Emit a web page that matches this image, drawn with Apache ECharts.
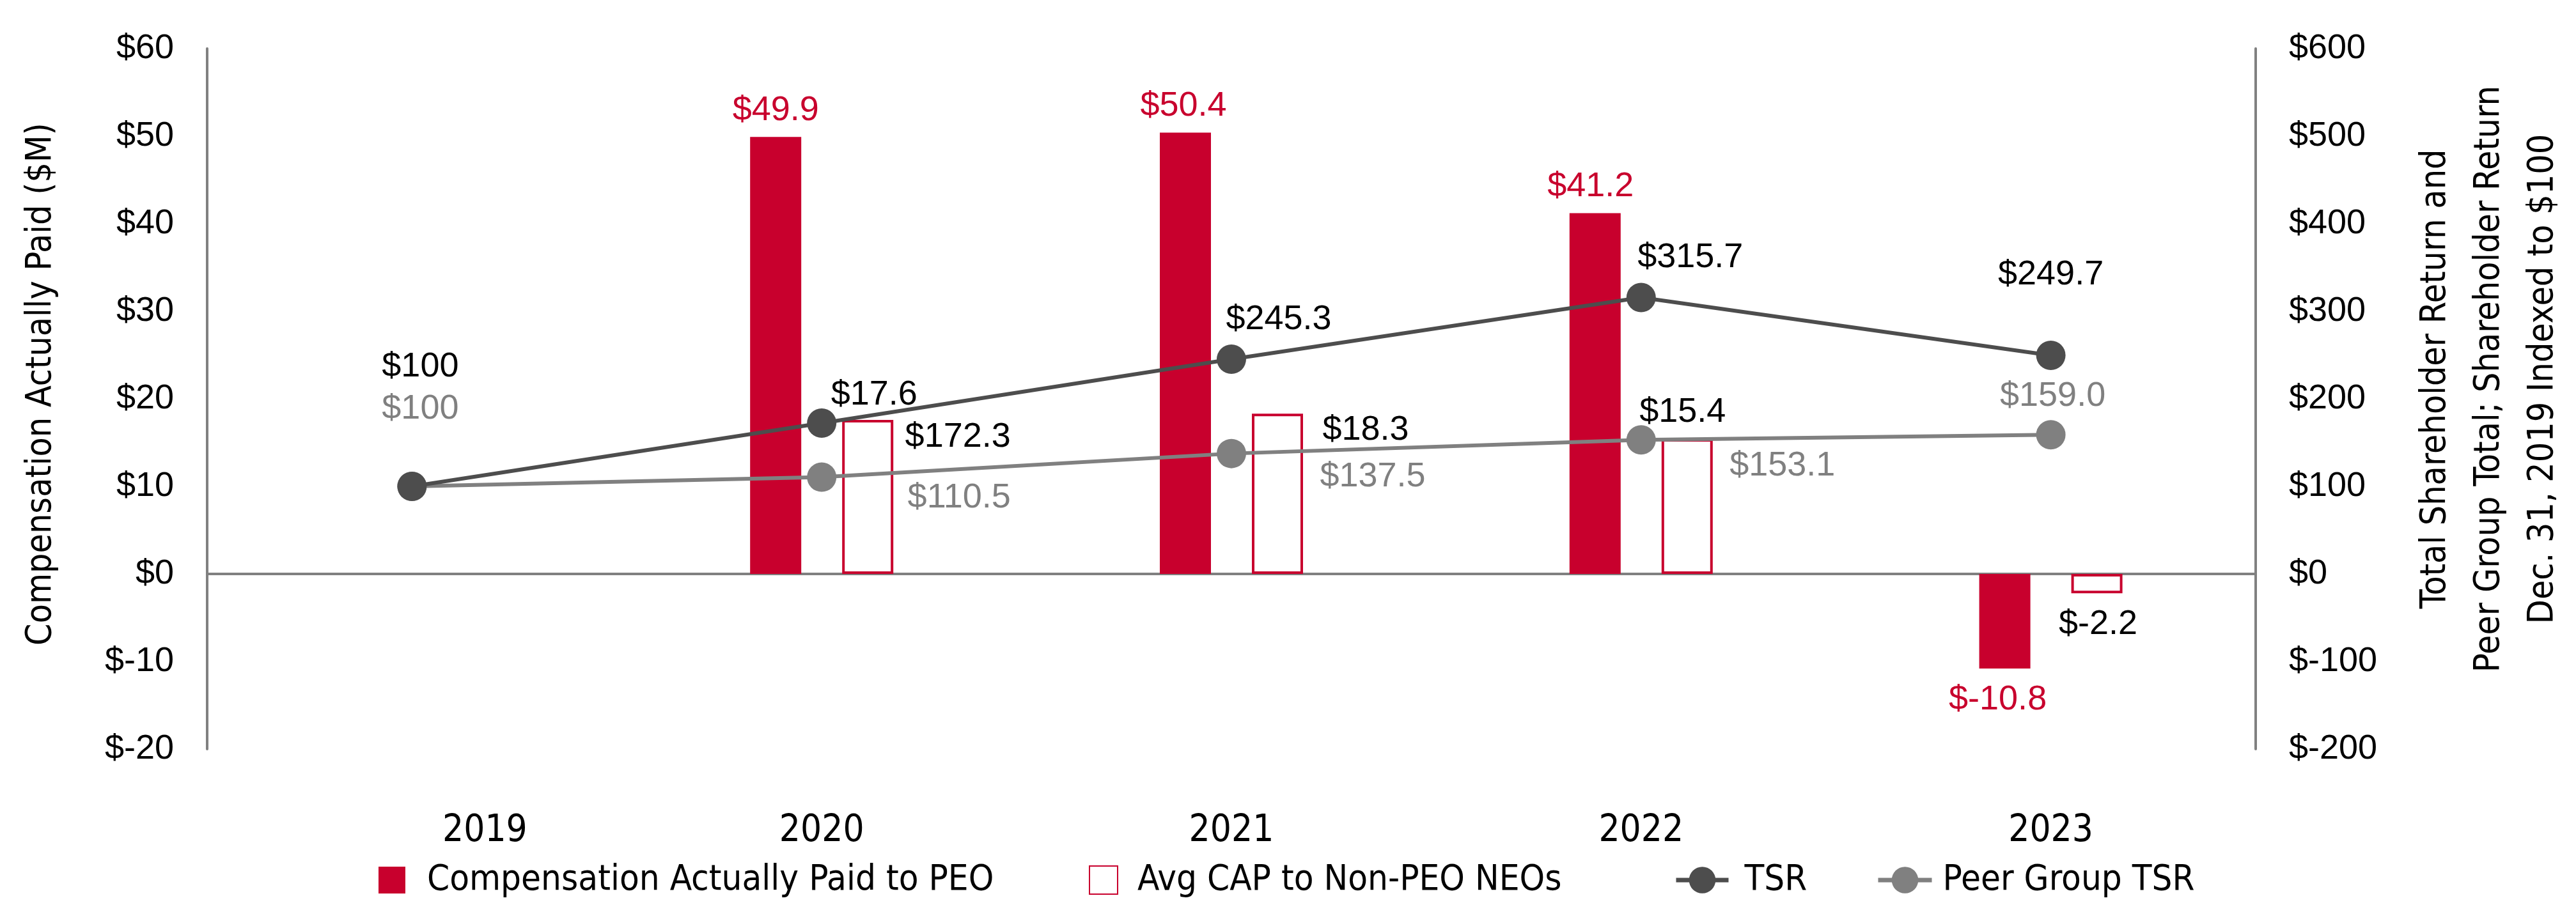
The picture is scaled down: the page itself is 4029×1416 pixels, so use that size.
<!DOCTYPE html>
<html>
<head>
<meta charset="utf-8">
<script src="https://cdn.jsdelivr.net/npm/echarts@6/dist/echarts.min.js"></script>
<style>
html,body{margin:0;padding:0;background:#fff;}
#chart{width:4029px;height:1416px;}
</style>
</head>
<body>
<div id="chart"></div>
<script>
// ---- data ----
const years = ['2019', '2020', '2021', '2022', '2023'];
const capPEO = [null, 49.9, 50.4, 41.2, -10.8];
const capNEO = [null, 17.6, 18.3, 15.4, -2.2];
const tsr = [100, 172.3, 245.3, 315.7, 249.7];
const peerTsr = [100, 110.5, 137.5, 153.1, 159.0];
const leftAxisRange = { min: -20, max: 60, interval: 10 };
const rightAxisRange = { min: -200, max: 600, interval: 100 };
const seriesNames = ['Compensation Actually Paid to PEO', 'Avg CAP to Non-PEO NEOs', 'TSR', 'Peer Group TSR'];
const leftTitle = 'Compensation Actually Paid ($M)';
const rightTitle = 'Total Shareholder Return and\nPeer Group Total; Shareholder Return\nDec. 31, 2019 Indexed to $100';

// ---- label placement (styling only) ----
const peoLabelOffsets = [[0, 0], [0, 0], [-3, 0], [-7, 0], [-11, 8]];
const neoLabelOffsets = [[0, 0], [10, 2], [138, 67], [-7, -1], [2, 8]];
const tsrLabelOffsets = [[13, -187], [213, 22], [74, -62], [77, -62], [0, -126]];
const peerLabelOffsets = [[13, -121], [215, 32], [221, 36], [221, 41], [3, -60]];

const RED = '#c8002d';
const DARK = '#4d4d4d';
const GREY = '#808080';
const NARROW = "'Liberation Sans Narrow', 'DejaVu Sans Condensed', 'Liberation Sans', sans-serif";
const SANS = "'Liberation Sans', Arial, sans-serif";

const money = (v, i) => (i === 0 ? '$' + v : '$' + v.toFixed(1));

const chart = echarts.init(document.getElementById('chart'), null, { renderer: 'canvas' });

const labelBase = { show: true, fontFamily: SANS, fontSize: 54, textBorderWidth: 0 };
const legendText = (pad) => ({ fontFamily: NARROW, fontSize: 56, color: '#000', padding: [0, 0, 0, pad] });

const option = {
  backgroundColor: '#fff',
  animation: false,
  grid: { left: 324, right: 501, top: 76, height: 1096 },
  legend: [
    { data: [seriesNames[0]], left: 592, top: 1349, padding: 0, icon: 'rect', itemWidth: 42, itemHeight: 42, selectedMode: false,
      textStyle: legendText(29) },
    { data: [seriesNames[1]], left: 1703, top: 1349, padding: 0, icon: 'rect', itemWidth: 44, itemHeight: 44, selectedMode: false,
      textStyle: legendText(26) },
    { data: [seriesNames[2]], left: 2618, top: 1349, padding: 0, itemWidth: 82, itemHeight: 52, selectedMode: false,
      lineStyle: { width: 7 }, textStyle: legendText(20) },
    { data: [seriesNames[3]], left: 2934, top: 1349, padding: 0, itemWidth: 84, itemHeight: 52, selectedMode: false,
      lineStyle: { width: 7 }, textStyle: legendText(12) }
  ],
  xAxis: [
    {
      type: 'category', data: years, position: 'bottom',
      axisLine: { show: false, onZero: false }, axisTick: { show: false }, splitLine: { show: false },
      axisLabel: {
        margin: 100, fontFamily: NARROW, fontSize: 58, color: '#000',
        formatter: v => (v === years[0] ? '{s|' + v + '}' : v),
        rich: { s: { fontFamily: NARROW, fontSize: 58, color: '#000', padding: [0, 0, 0, 228] } }
      }
    },
    {
      type: 'category', data: years, position: 'bottom',
      axisLine: { show: true, onZero: true, lineStyle: { color: GREY, width: 4 } },
      axisTick: { show: false }, axisLabel: { show: false }, splitLine: { show: false }
    }
  ],
  yAxis: [
    {
      type: 'value', position: 'left',
      min: leftAxisRange.min, max: leftAxisRange.max, interval: leftAxisRange.interval,
      axisLine: { show: true, lineStyle: { color: GREY, width: 4 } },
      axisTick: { show: false }, splitLine: { show: false },
      axisLabel: { margin: 52, fontFamily: SANS, fontSize: 54, color: '#000', formatter: v => '$' + v },
      name: leftTitle, nameLocation: 'middle', nameRotate: 90, nameGap: 232,
      nameTextStyle: { fontFamily: NARROW, fontSize: 55, color: '#000', padding: [0, 0, 0, 46] }
    },
    {
      type: 'value', position: 'right',
      min: rightAxisRange.min, max: rightAxisRange.max, interval: rightAxisRange.interval,
      axisLine: { show: true, lineStyle: { color: GREY, width: 4 } },
      axisTick: { show: false }, splitLine: { show: false },
      axisLabel: { margin: 52, fontFamily: SANS, fontSize: 54, color: '#000', formatter: v => '$' + v },
      name: rightTitle, nameLocation: 'middle', nameRotate: 90, nameGap: 240,
      nameTextStyle: { fontFamily: NARROW, fontSize: 55, lineHeight: 84, color: '#000', padding: [0, 0, 0, 62] }
    }
  ],
  series: [
    {
      name: seriesNames[0], type: 'bar', xAxisIndex: 0, yAxisIndex: 0,
      barWidth: 80, barGap: '80%',
      itemStyle: { color: RED },
      data: capPEO.map((v, i) => v == null ? null : {
        value: v,
        label: Object.assign({}, labelBase, {
          position: v < 0 ? 'bottom' : 'top', distance: 14, color: RED,
          offset: peoLabelOffsets[i], formatter: '$' + v.toFixed(1)
        })
      })
    },
    {
      name: seriesNames[1], type: 'bar', xAxisIndex: 0, yAxisIndex: 0,
      barWidth: 80, barGap: '80%',
      itemStyle: { color: '#fff', borderColor: RED, borderWidth: 4 },
      data: capNEO.map((v, i) => v == null ? null : {
        value: v,
        label: Object.assign({}, labelBase, {
          position: v < 0 ? 'bottom' : 'top', distance: 14, color: '#000',
          offset: neoLabelOffsets[i], formatter: '$' + v.toFixed(1)
        })
      })
    },
    {
      name: seriesNames[2], type: 'line', xAxisIndex: 0, yAxisIndex: 1, z: 4,
      symbol: 'circle', symbolSize: 46,
      lineStyle: { color: DARK, width: 6 }, itemStyle: { color: DARK },
      data: tsr.map((v, i) => ({
        value: v,
        label: Object.assign({}, labelBase, {
          position: 'inside', color: '#000', offset: tsrLabelOffsets[i], formatter: money(v, i)
        })
      }))
    },
    {
      name: seriesNames[3], type: 'line', xAxisIndex: 0, yAxisIndex: 1, z: 3,
      symbol: 'circle', symbolSize: 46,
      lineStyle: { color: GREY, width: 6 }, itemStyle: { color: GREY },
      data: peerTsr.map((v, i) => ({
        value: v,
        label: Object.assign({}, labelBase, {
          position: 'inside', color: GREY, offset: peerLabelOffsets[i], formatter: money(v, i)
        })
      }))
    }
  ]
};

chart.setOption(option);
</script>
</body>
</html>
